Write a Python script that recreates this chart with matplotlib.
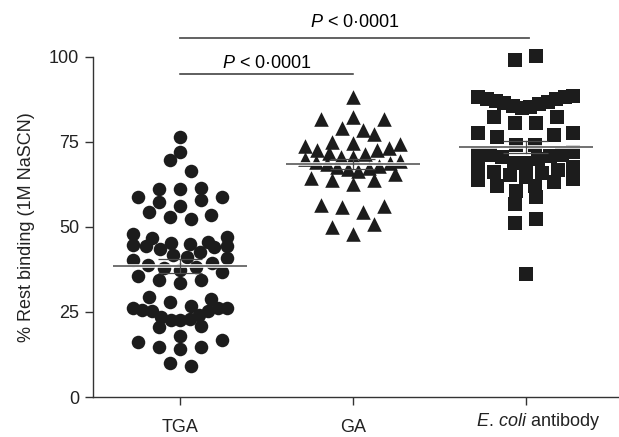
import numpy as np
import matplotlib
matplotlib.use("Agg")
from matplotlib import pyplot as plt
from matplotlib import patheffects as pe
from matplotlib import transforms

plt.rcParams['font.family'] = ['Liberation Sans', 'DejaVu Sans']
plt.rcParams['mathtext.fontset'] = 'custom'
plt.rcParams['mathtext.rm'] = 'Liberation Sans'
plt.rcParams['mathtext.it'] = 'Liberation Sans:italic'

categories = ['TGA', 'GA', r'$\it{E.\,coli}$ antibody']

tga = [76.4, 72.2, 69.7, 66.5, 61.4, 61.2, 61.2, 58.9, 58.7, 57.9, 57.3, 56.3,
       54.5, 53.5, 52.9, 52.4, 47.8, 47.0, 46.7,
       45.0, 44.5, 44.0, 43.5, 42.7, 44.3, 44.8, 45.2, 45.7,
       41.8, 40.8, 39.3, 38.3, 37.4, 35.6, 36.9, 37.8, 38.8, 40.3, 41.3,
       34.4, 33.4, 34.4, 29.5, 28.8,
       28.0, 26.1, 25.4, 25.2, 24.1, 22.6, 22.6, 22.8, 23.6, 25.6, 26.1, 26.1, 26.8,
       20.5, 21.0, 18.0, 16.3, 14.8, 16.8, 14.1, 14.8, 9.2, 10.1]

ga = [88.1, 81.7, 81.7, 82.4, 78.5, 79.2, 77.3, 73.9, 75.1, 74.8, 74.3,
      72.6, 71.7, 72.6, 73.1, 71.5, 70.7, 70.7, 70.0, 69.2, 68.7, 69.5, 68.5, 68.0,
      67.0, 65.6, 67.5, 66.6, 67.3, 63.8, 62.6, 63.8, 64.3,
      56.5, 56.0, 54.5, 56.2, 50.9, 50.1, 47.9]

ecoli = [100.4, 99.1,
         88.4, 88.1, 87.7, 87.1, 86.4, 85.6, 84.9, 85.3, 86.1, 86.9, 87.6, 88.2,
         82.4, 82.4, 80.5, 80.5, 76.6, 77.5, 77.5, 77.1, 74.1, 74.1,
         71.2, 68.7, 67.7, 66.8, 65.8, 65.3, 64.8, 66.3, 67.3, 68.7, 71.2,
         72.0, 71.5, 71.0, 70.5, 70.0,
         64.0, 63.8, 63.3, 62.2, 62.1, 60.7, 58.9, 56.9, 52.4, 51.3, 36.3]

groups = [tga, ga, ecoli]
markers = ['o', '^', 's']
msizes = [95, 110, 100]

p_text = r'$\it{P}$ < 0·0001'

# pixel scale of the axes (figure is 619x437 at dpi 100)
PX_X = 173.0   # pixels per category
PX_Y = 3.4     # pixels per % unit


def row_offsets(values, row_h=3.6, max_step=21.0, max_width=95.0):
    # prism-like layout: close values share a row, lowest in the middle
    vals = np.asarray(values, dtype=float)
    order = np.argsort(vals, kind='stable')
    rows, cur = [], [order[0]]
    for i in order[1:]:
        if vals[i] - vals[cur[0]] <= row_h:
            cur.append(i)
        else:
            rows.append(cur)
            cur = [i]
    rows.append(cur)
    out = np.zeros(len(vals))
    for r in rows:
        n = len(r)
        step = max_step if n < 2 else min(max_step, max_width / (n - 1))
        slots = (np.arange(n) - (n - 1) / 2.0) * step
        # middle slots first, alternating left / right
        slot_order = sorted(range(n), key=lambda k: (abs(slots[k]), slots[k]))
        if n % 2 == 0 and (len(rows) + n) % 2:
            slot_order = sorted(range(n), key=lambda k: (abs(slots[k]), -slots[k]))
        for idx, k in zip(r, slot_order):
            out[idx] = slots[k]
    return out / PX_X


fig = plt.figure(figsize=(6.19, 4.37), dpi=100)
ax = fig.add_axes([93 / 619, 1 - 397 / 437, 526 / 619, 340 / 437])

halo = [pe.Stroke(linewidth=2.6, foreground='white'), pe.Normal()]
for i, vals in enumerate(groups):
    xs = i + row_offsets(vals)
    ax.scatter(xs, vals, marker=markers[i], s=msizes[i], color='#1c1c1c',
               linewidths=0, zorder=3, clip_on=False)
    m = np.mean(vals)
    sem = np.std(vals, ddof=1) / np.sqrt(len(vals))
    ax.plot([i - 0.385, i + 0.385], [m, m], color='#4a4a4a', lw=1.1,
            zorder=4, path_effects=halo, solid_capstyle='butt')
    ax.plot([i, i], [m - sem, m + sem], color='#4a4a4a', lw=0.9, zorder=4)
    for e in (m - sem, m + sem):
        ax.plot([i - 0.13, i + 0.13], [e, e], color='#4a4a4a', lw=0.9,
                zorder=4, solid_capstyle='butt')

# significance bars
ax.plot([0, 2.02], [105.6, 105.6], color='#555555', lw=1.3, clip_on=False)
ax.text(1.01, 110.0, p_text, ha='center', va='center', fontsize=13)
ax.plot([0, 1.0], [95.0, 95.0], color='#333333', lw=1.1, clip_on=False)
ax.text(0.5, 98.0, p_text, ha='center', va='center', fontsize=13)

ax.set_xlim(-0.503, 2.538)
ax.set_ylim(0, 100)
ax.set_yticks([0, 25, 50, 75, 100])
ax.set_xticks([0, 1, 2])
ax.set_xticklabels([])
ax.tick_params(axis='both', direction='out', length=6, width=1,
               color='#333333', labelsize=13, labelcolor='#222222')
ax.tick_params(axis='y', pad=4)
for side in ('top', 'right'):
    ax.spines[side].set_visible(False)
for side in ('left', 'bottom'):
    ax.spines[side].set_color('#333333')
    ax.spines[side].set_linewidth(1.0)

# category labels, the last one sits a little higher
trans = transforms.blended_transform_factory(ax.transData, fig.transFigure)
label_y = [1 - 428 / 437, 1 - 428 / 437, 1 - 421 / 437]
label_x = [0, 1, 2.07]
for lx, ly, name in zip(label_x, label_y, categories):
    ax.text(lx, ly, name, transform=trans, ha='center', va='center',
            fontsize=13, color='#222222')

ax.set_ylabel('% Rest binding (1M NaSCN)', fontsize=13, color='#222222',
              labelpad=10)

fig.savefig('out.png', dpi=100)
